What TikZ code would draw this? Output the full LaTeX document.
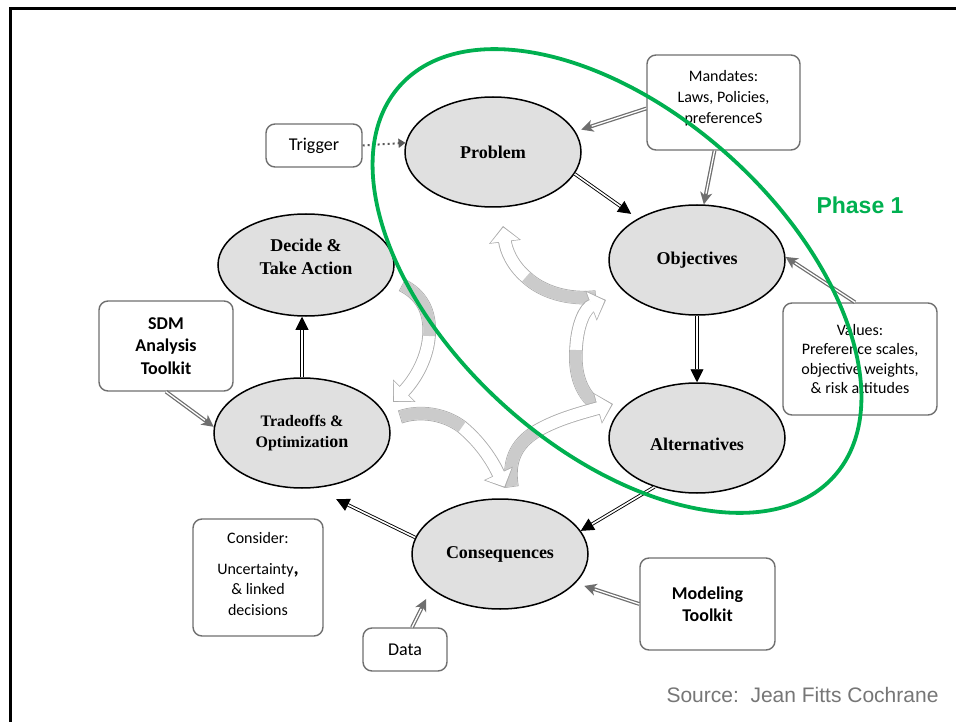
\documentclass[tikz,border=0pt]{standalone}
\usepackage{fontspec}
\setmainfont{Liberation Serif}
\newfontfamily\carl{Carlito}
\newfontfamily\arl{Liberation Sans}
\usetikzlibrary{shapes.geometric,arrows.meta}
\definecolor{ellfill}{HTML}{E0E0E0}
\definecolor{boxedge}{HTML}{6F6F6F}
\definecolor{garr}{HTML}{6E6E6E}
\definecolor{phase}{HTML}{00B050}
\definecolor{cycedge}{HTML}{ABABAB}
\definecolor{cycfill}{HTML}{CBCBCB}
\definecolor{srcgray}{HTML}{767676}
\newcommand\cycarrow[7]{%
  \draw[line width=13.5pt, cycedge, -{Triangle[length=16pt,width=31pt]}] #1 .. controls #2 and #3 .. #4 .. controls #5 and #6 .. #7;
  \draw[line width=11.8pt, white, shorten >=1.5pt, shorten <=0.8pt, -{Triangle[length=13.8pt,width=27.8pt]}] #1 .. controls #2 and #3 .. #4 .. controls #5 and #6 .. #7;
  \draw[line width=11.8pt, cycfill, shorten <=0.8pt] #1 .. controls #2 and #3 .. #4;
}
\newcommand\grayconn[3]{%
  \draw[garr, line width=3.8pt, shorten >=#1pt, -{Stealth[length=12pt,width=12pt,inset=3.5pt]}] #2 -- #3;
  \draw[white, line width=1.3pt, shorten >=#1pt+11pt] #2 -- #3;
}
\begin{document}
\begin{tikzpicture}[x=1pt,y=-1pt,
  stage/.style={ellipse, draw=black, line width=1.5pt, fill=ellfill, minimum width=176pt, minimum height=110pt, inner sep=0pt, align=center, font=\fontsize{18}{23}\selectfont\bfseries},
  infobox/.style={draw=boxedge, line width=1.4pt, rounded corners=9pt, fill=white, align=center, inner sep=0pt, font=\carl\fontsize{16}{20}\selectfont},
  blkarrow/.style={draw=black, double=white, double distance=1.6pt, line width=0.9pt, -{Triangle[length=13pt,width=13pt]}},
  trigarrow/.style={draw=garr!80!black, line width=2pt, dash pattern=on 2pt off 3pt, -{Triangle[length=7pt,width=9pt]}}
]
\fill[white] (0,0) rectangle (956,722);
\useasboundingbox (0,0) rectangle (956,722);
% frame
\draw[line width=2.8pt] (10.3,723) -- (10.3,8.7) -- (957,8.7);

% central cycle of curved arrows
\cycarrow{(596,297)}{(568,300)}{(542,292)}{(526,277)}{(512,265)}{(506,250)}{(503,226)}
\cycarrow{(604,410)}{(585,400)}{(574,380)}{(576,350)}{(577,325)}{(585,308)}{(606,300)}
\cycarrow{(512,487)}{(508,462)}{(515,445)}{(535,432)}{(555,420)}{(577,414)}{(613,404)}
\cycarrow{(400,417)}{(420,410)}{(445,414)}{(462,427)}{(480,442)}{(492,460)}{(505,488)}
\cycarrow{(402,285)}{(420,294)}{(431,310)}{(429,336)}{(427,362)}{(412,383)}{(393,402)}

% stages
\node[stage] (prob) at (493,152) {Problem};
\node[stage] (obj) at (697,260) {Objectives};
\node[stage, text height=24.5pt] (alt) at (697,438) {Alternatives};
\node[stage] (cons) at (500,554) {Consequences};
\node[stage, font=\fontsize{16}{21}\selectfont\bfseries] (trade) at (302,433) {Tradeoffs \&\\Optimizati{\fontsize{18}{21}\selectfont on}};
\node[stage, minimum height=102pt, text depth=16pt] (dec) at (306,265) {Decide \&\\Take Action};

% boxes
\node[infobox, minimum width=96pt, minimum height=43pt, font=\carl\fontsize{18}{22}\selectfont] (trig) at (314,145.5) {Trigger};
\node[infobox, minimum width=153pt, minimum height=95pt, text depth=11pt, font=\carl\fontsize{16}{21}\selectfont] (mand) at (723.5,102.5) {Mandates:\\Laws, Policies,\\preferenceS};
\node[infobox, minimum width=154pt, minimum height=112pt, font=\carl\fontsize{16}{19.5}\selectfont] (val) at (860,359) {Values:\\Preference scales,\\objective weights,\\\& risk attitudes};
\node[infobox, minimum width=134pt, minimum height=90pt, font=\carl\bfseries\fontsize{18}{22.5}\selectfont] (sdm) at (166,346) {SDM\\Analysis\\Toolkit};
\node[infobox, minimum width=130pt, minimum height=117pt, text depth=7pt, font=\carl\fontsize{16}{20.5}\selectfont] (cond) at (258,577.5) {Consider:\\[10pt]Uncertainty{\bfseries\fontsize{20}{20}\selectfont,}\\\& linked\\decisions};
\node[infobox, minimum width=84pt, minimum height=43pt, font=\carl\fontsize{18}{22}\selectfont] (data) at (405,649.5) {Data};
\node[infobox, minimum width=135pt, minimum height=92pt, font=\carl\bfseries\fontsize{18}{22}\selectfont] (model) at (707.5,604) {Modeling\\Toolkit};

% main cycle connectors
\draw[trigarrow] (trig.east) -- (prob.174);
\draw[blkarrow, shorten >=8pt] (prob.-15) -- (obj.145);
\draw[blkarrow] (obj.south) -- (alt.north);
\draw[blkarrow] (alt.229) -- (cons.16);
\draw[blkarrow, shorten >=25pt] (cons.169) -- (trade.-78);
\draw[blkarrow] (trade.north) -- (trade.north |- dec.south);

% input connectors
\grayconn{6}{([yshift=-6pt]mand.west)}{(prob.14)}
\grayconn{0}{([xshift=-9pt]mand.south)}{(obj.83)}
\grayconn{0}{([xshift=-5pt]val.north)}{(obj.2)}
\grayconn{0}{(sdm.south)}{(trade.176)}
\grayconn{11}{([xshift=7pt]data.north)}{(cons.207)}
\grayconn{9}{(model.west)}{(cons.-21)}

% phase 1 outline
\draw[phase, line width=3.8pt, rotate around={-42:(617,281)}] (617,281) ellipse [x radius=292pt, y radius=168pt];
\node[font=\arl\bfseries\fontsize{23}{23}\selectfont, text=phase] (ph) at (860,205) {Phase 1};
\node[font=\arl\fontsize{21}{21}\selectfont, text=srcgray, anchor=east] (src) at (942,695) {Source:\ \ Jean Fitts Cochrane};
\end{tikzpicture}
\end{document}
